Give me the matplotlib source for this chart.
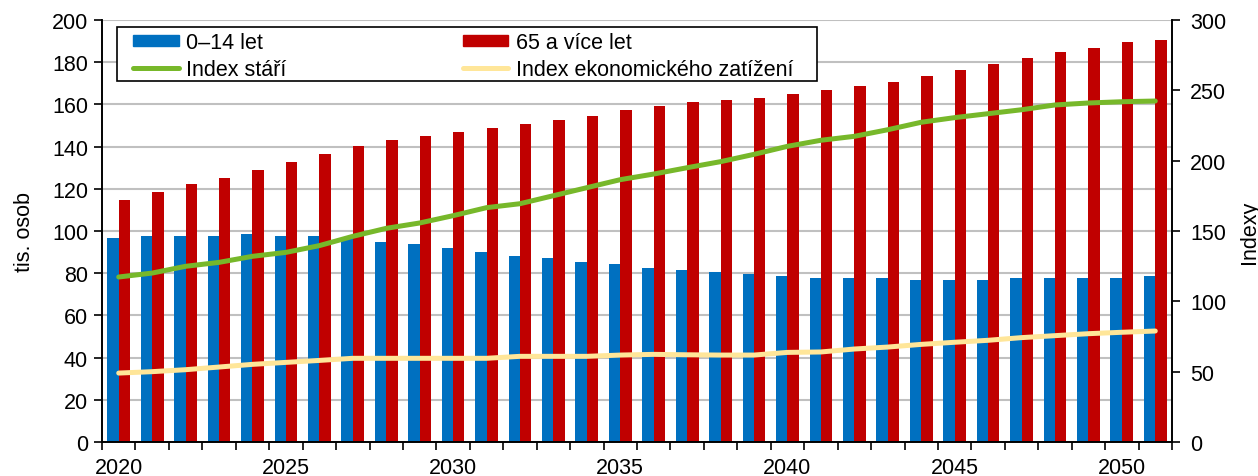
import matplotlib
matplotlib.use("Agg")
import matplotlib.pyplot as plt
import numpy as np
from matplotlib.lines import Line2D
from matplotlib.patches import Patch, Rectangle

plt.rcParams['font.family'] = ['Liberation Sans', 'DejaVu Sans']

years = list(range(2020, 2052))
children_0_14 = [96.5, 97.5, 97.5, 97.5, 98.4, 97.5, 97.5, 96.5, 94.6, 93.7,
                 91.8, 89.9, 88.0, 87.1, 85.2, 84.2, 82.3, 81.4, 80.4, 79.5,
                 78.5, 77.6, 77.6, 77.6, 76.6, 76.6, 76.6, 77.6, 77.6, 77.6,
                 77.6, 78.5]
seniors_65 = [114.5, 118.3, 122.1, 125.0, 128.8, 132.5, 136.3, 140.1, 143.0, 144.9,
              146.8, 148.7, 150.6, 152.5, 154.4, 157.2, 159.1, 161.0, 161.9, 162.9,
              164.8, 166.7, 168.6, 170.5, 173.3, 176.2, 179.0, 181.8, 184.7, 186.6,
              189.4, 190.3]
index_stari = [117.3, 120.1, 124.9, 127.7, 132.0, 134.8, 139.6, 146.2, 151.9, 155.7,
               160.9, 166.6, 169.4, 175.1, 180.8, 186.5, 190.5, 195.0, 199.3, 204.5,
               210.2, 214.5, 217.3, 222.0, 227.3, 230.6, 233.4, 236.2, 239.6, 241.0,
               241.9, 242.4]
index_zatizeni = [49.0, 50.0, 51.4, 53.3, 55.2, 56.6, 58.0, 59.5, 59.5, 59.5,
                  59.5, 59.5, 60.9, 60.9, 60.9, 61.8, 62.3, 62.0, 61.8, 61.8,
                  63.7, 64.0, 66.1, 67.5, 69.4, 70.9, 72.3, 74.2, 75.6, 77.0,
                  78.0, 78.9]
left_ticks = list(range(0, 201, 20))
right_ticks = list(range(0, 301, 50))
label_years = [2020, 2025, 2030, 2035, 2040, 2045, 2050]

BLUE = '#0070C0'
RED = '#C00000'
GREEN = '#77B82A'
YELLOW = '#FFE699'
FS = 15.5
LW = 3.6

fig = plt.figure(figsize=(12.58, 4.77), dpi=100)
AX_L, AX_R, AX_B, AX_T = 102, 1172, 443, 21
ax = fig.add_axes([AX_L/1258, (477-AX_B)/477, (AX_R-AX_L)/1258, (AX_B-AX_T)/477])
x = np.arange(len(years))
w = 0.34
ax.bar(x - w/2, children_0_14, width=w, color=BLUE, zorder=2)
ax.bar(x + w/2, seniors_65, width=w, color=RED, zorder=2)
ax.set_ylim(0, 200)
ax.set_yticks(left_ticks)
ax.set_xlim(-0.5, len(years) - 0.5)
ax.yaxis.grid(True, color='#c0c0c0', linewidth=1.5, zorder=0)
ax.set_axisbelow(True)

ax.set_xticks([years.index(y) for y in label_years])
ax.set_xticklabels([str(y) for y in label_years])
ax.set_xticks(np.arange(-0.5, len(years), 1), minor=True)
ax.tick_params(axis='x', which='major', length=0, pad=11, labelsize=FS)
ax.tick_params(axis='x', which='minor', length=6, width=1.2, direction='out')
ax.tick_params(axis='y', length=6, width=1.2, direction='out', labelsize=FS, pad=4)
for s in ax.spines.values():
    s.set_linewidth(1.2)
ax.spines['top'].set_visible(False)
ax.set_ylabel('tis. osob', fontsize=FS, labelpad=12)

ax2 = ax.twinx()
ax2.plot(x, index_stari, color=GREEN, linewidth=LW, solid_capstyle='round', zorder=3)
ax2.plot(x, index_zatizeni, color=YELLOW, linewidth=LW, solid_capstyle='round', zorder=3)
ax2.set_ylim(0, 300)
ax2.set_yticks(right_ticks)
ax2.tick_params(axis='y', length=6, width=1.2, direction='out', labelsize=FS, pad=7)
for s in ax2.spines.values():
    s.set_linewidth(1.2)
ax2.spines['top'].set_visible(False)
ax2.set_ylabel('Indexy', fontsize=FS, labelpad=9)

# legend frame
W, H = AX_R - AX_L, AX_B - AX_T
fx0, fx1, fy0, fy1 = 117, 817, 28, 82
frame = Rectangle(((fx0-AX_L)/W, (AX_B-fy1)/H), (fx1-fx0)/W, (fy1-fy0)/H,
                  transform=ax2.transAxes, facecolor='white', edgecolor='black',
                  linewidth=1.2, zorder=9, clip_on=False)
ax2.add_patch(frame)

handles = [Patch(color=BLUE), Line2D([], [], color=GREEN, linewidth=LW, solid_capstyle='round'),
           Patch(color=RED), Line2D([], [], color=YELLOW, linewidth=LW, solid_capstyle='round')]
labels = ['0–14 let', 'Index stáří', '65 a více let', 'Index ekonomického zatížení']
leg = ax2.legend(handles, labels, ncol=2, loc='upper left',
                 bbox_to_anchor=((128-AX_L)/W, 1 - (fy0-AX_T)/H),
                 fontsize=FS, frameon=False, handlelength=2.1, handleheight=0.45,
                 borderpad=0.25, labelspacing=0.27, handletextpad=0.35,
                 columnspacing=8.2, borderaxespad=0)
leg.set_zorder(10)

fig.savefig('out.png', dpi=100)
